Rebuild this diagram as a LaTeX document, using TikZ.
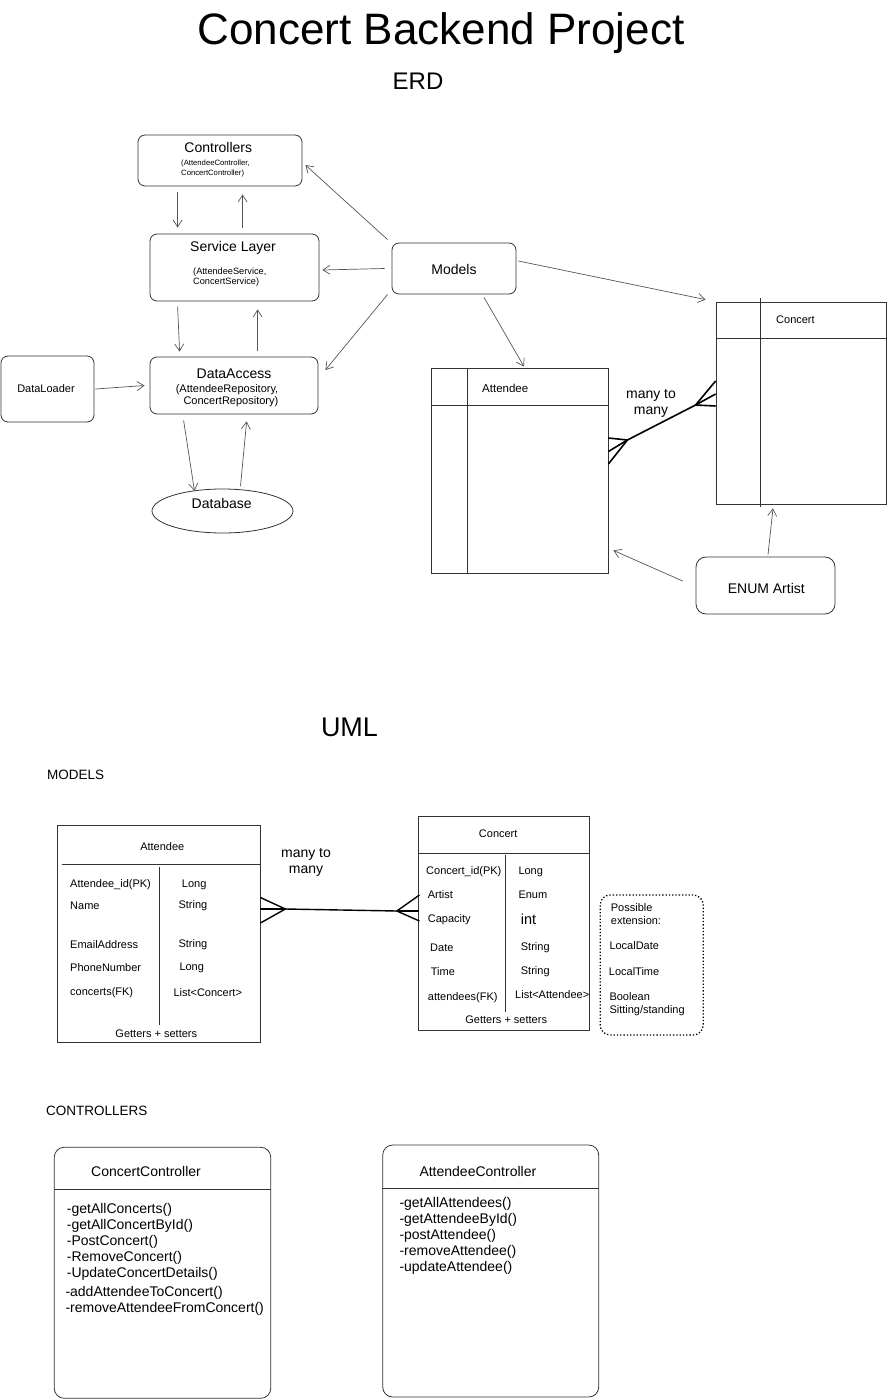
\documentclass[tikz,border=0pt]{standalone}
\usepackage{fontspec}
\setmainfont{Liberation Sans}
\usetikzlibrary{arrows.meta,shapes.geometric,calc}
\definecolor{lc}{HTML}{333333}
\definecolor{ac}{HTML}{555555}
\begin{document}
\begin{tikzpicture}[x=1pt,y=-1pt,
  rbox/.style={draw=lc,line width=0.8pt,rounded corners=7pt,inner sep=0},
  rboxb/.style={draw=lc,line width=0.8pt,rounded corners=10pt,inner sep=0},
  tbl/.style={draw=lc,line width=0.8pt,inner sep=0},
  tline/.style={draw=lc,line width=0.8pt},
  arr/.style={draw=ac,line width=0.7pt,-{Straight Barb[length=7pt,width=9pt]}},
  crow/.style={draw=black,line width=1.6pt},
  crowb/.style={draw=black,line width=1.4pt},
  txt/.style={inner sep=0,anchor=west},
  ctr/.style={inner sep=0},
  f44/.style={font=\fontsize{44}{50}\selectfont},
  f27/.style={font=\fontsize{27}{32}\selectfont},
  f24/.style={font=\fontsize{24}{28}\selectfont},
  f14/.style={font=\fontsize{14}{16}\selectfont},
  f145/.style={font=\fontsize{14.5}{17}\selectfont},
  f135/.style={font=\fontsize{13.5}{16}\selectfont},
  f115/.style={font=\fontsize{11.5}{13.5}\selectfont},
  f11/.style={font=\fontsize{11}{12.4}\selectfont},
  f92/.style={font=\fontsize{9.2}{10}\selectfont},
  f77/.style={font=\fontsize{7.7}{9.3}\selectfont},
]
\useasboundingbox (0,0) rectangle (888,1400);

% ---------- titles ----------
\node[f44,inner sep=0,anchor=base] (title) at (441,44) {Concert Backend Project};
\node[f24,inner sep=0,anchor=base] (erd) at (418,89.6) {ERD};

% ---------- ERD boxes ----------
\node[rbox,minimum width=164pt,minimum height=51pt] (ctrl) at (220,160.5) {};
\node[f14,ctr] (ctrlT) at (218.3,147.3) {Controllers};
\node[f77,txt,align=left] (ctrlS) at (181,168.6) {(AttendeeController,\\ConcertController)};

\node[rbox,minimum width=169pt,minimum height=67pt] (svc) at (234.5,267.5) {};
\node[f14,ctr] (svcT) at (233,248) {Service Layer};
\node[f92,txt,align=left] (svcS) at (193,276.7) {(AttendeeService,\\ConcertService)};

\node[rbox,minimum width=168pt,minimum height=57pt] (dao) at (234,385.5) {};
\node[f14,ctr] (daoT) at (234,374) {DataAccess};
\node[f11,inner sep=0,anchor=east,align=right] (daoS) at (278.5,395.5) {(AttendeeRepository,\\ConcertRepository)};

\node[rbox,minimum width=93pt,minimum height=66pt] (loader) at (47.5,389) {};
\node[f11,ctr] (loaderT) at (46,388.3) {DataLoader};

\node[ellipse,draw=lc,line width=0.8pt,minimum width=141pt,minimum height=44pt,inner sep=0] (db) at (222.5,511) {};
\node[f14,ctr] (dbT) at (221.7,503.3) {Database};

\node[rbox,minimum width=124pt,minimum height=51pt] (models) at (454,268.5) {};
\node[f14,ctr] (modelsT) at (454,269.3) {Models};

\node[rboxb,minimum width=139pt,minimum height=57pt] (enum) at (765.5,585.5) {};
\node[f14,ctr] (enumT) at (766.3,588) {ENUM Artist};

% ERD tables
\node[tbl,minimum width=177pt,minimum height=205pt] (erdA) at (519.5,470.5) {};
\draw[tline] ([xshift=37pt]erdA.north west) -- ([xshift=37pt]erdA.south west);
\draw[tline] ([yshift=-38pt]erdA.north west) -- ([yshift=-38pt]erdA.north east);
\node[f115,txt] (erdAT) at (482,388.3) {Attendee};

\node[tbl,minimum width=170pt,minimum height=202pt] (erdC) at (801,403) {};
\draw[tline] ([xshift=45pt,yshift=4pt]erdC.north west) -- ([xshift=45pt,yshift=-3pt]erdC.south west);
\draw[tline] ([yshift=-37pt]erdC.north west) -- ([yshift=-37pt]erdC.north east);
\node[f11,txt] (erdCT) at (776,320) {Concert};

% crow's feet ERD
\coordinate (fA) at ([xshift=19pt,yshift=30.5pt]erdA.east);
\coordinate (fC) at ([xshift=-20pt,yshift=-2pt]erdC.west);
\draw[crow] (fA) -- (fC);
\draw[crow] ([yshift=32.5pt]erdA.east) -- (fA) -- ([yshift=6.5pt]erdA.east);
\draw[crow] ([yshift=19pt]erdA.east) -- (fA);
\draw[crow] ([yshift=22pt]erdC.west) -- (fC) -- ([yshift=-3pt]erdC.west);
\draw[crow] ([yshift=9pt]erdC.west) -- (fC);
\node[f14,align=center,inner sep=0] (m2m) at (651,403) {many to\\many};

% ERD arrows
\draw[arr] ([xshift=40pt,yshift=-6pt]ctrl.south west) -- ([xshift=28pt,yshift=6pt]svc.north west);
\draw[arr] ([xshift=93pt,yshift=6pt]svc.north west) -- ([xshift=105pt,yshift=-8pt]ctrl.south west);
\draw[arr] ([xshift=28pt,yshift=-5pt]svc.south west) -- ([xshift=30pt,yshift=5pt]dao.north west);
\draw[arr] ([xshift=108pt,yshift=6pt]dao.north west) -- ([xshift=108pt,yshift=-8pt]svc.south west);
\draw[arr] ([xshift=1pt]loader.east) -- ([xshift=-5pt]dao.west);
\draw[arr] ([xshift=34pt,yshift=-6pt]dao.south west) -- ([xshift=-28pt,yshift=20pt]db.center);
\draw[arr] ([xshift=18pt,yshift=25pt]db.center) -- ([xshift=97pt,yshift=-7pt]dao.south west);
\draw[arr] ([xshift=-4pt,yshift=3pt]models.north west) -- ([xshift=3pt,yshift=-4.5pt]ctrl.east);
\draw[arr] ([xshift=-7pt]models.west) -- ([xshift=3pt,yshift=-2.5pt]svc.east);
\draw[arr] ([xshift=-4pt]models.south west) -- ([xshift=7pt,yshift=15.5pt]dao.east);
\draw[arr] ([xshift=2pt,yshift=7.5pt]models.east) -- ([xshift=-10pt,yshift=2pt]erdC.north west);
\draw[arr] ([xshift=30pt,yshift=-3pt]models.south) -- ([xshift=4.5pt,yshift=1pt]erdA.north);
\draw[arr] ([xshift=-13pt,yshift=4.5pt]enum.west) -- ([xshift=5pt,yshift=23pt]erdA.south east);
\draw[arr] ([xshift=2.5pt,yshift=2pt]enum.north) -- ([xshift=-28pt,yshift=-4pt]erdC.south);

% ---------- UML ----------
\node[f27,inner sep=0,anchor=base] (uml) at (349.5,736.7) {UML};
\node[f135,txt] (modl) at (47,775) {MODELS};

% UML Attendee
\node[tbl,minimum width=203pt,minimum height=217pt] (ua) at (158.5,933.5) {};
\draw[tline] ([xshift=5pt,yshift=-40pt]ua.north west) -- ([xshift=1pt,yshift=-40pt]ua.north east);
\draw[tline] ([xshift=103pt,yshift=-42pt]ua.north west) -- ([xshift=103pt,yshift=17pt]ua.south west);
\node[f11,ctr] (uaT) at (162.3,846.7) {Attendee};
\node[f11,txt] (ua1) at (70,885) {Attendee\_id(PK)};
\node[f11,txt] (ua2) at (70,905.7) {Name};
\node[f11,txt] (ua3) at (70,945) {EmailAddress};
\node[f11,txt] (ua4) at (70,967.3) {PhoneNumber};
\node[f11,txt] (ua5) at (70,992.7) {concerts(FK)};
\node[f11,txt] (ub1) at (181.7,885) {Long};
\node[f11,txt] (ub2) at (178.3,905.7) {String};
\node[f11,txt] (ub3) at (178.3,945) {String};
\node[f11,txt] (ub4) at (179.3,968) {Long};
\node[f11,txt] (ub5) at (173.3,992.7) {List<Concert>};
\node[f11,ctr] (uaG) at (156.3,1033.3) {Getters + setters};

% UML Concert
\node[tbl,minimum width=171pt,minimum height=214pt] (uc) at (503.8,923) {};
\draw[tline] ([yshift=-37.3pt]uc.north west) -- ([yshift=-37.3pt]uc.north east);
\draw[tline] ([xshift=87pt,yshift=-39pt]uc.north west) -- ([xshift=87pt,yshift=18.3pt]uc.south west);
\node[f11,ctr] (ucT) at (498.2,833.3) {Concert};
\node[f11,txt] (uc1) at (426,871.7) {Concert\_id(PK)};
\node[f11,txt] (uc2) at (427.7,895) {Artist};
\node[f11,txt] (uc3) at (427.7,919.3) {Capacity};
\node[f11,txt] (uc4) at (430,947.3) {Date};
\node[f11,txt] (uc5) at (430.7,971.7) {Time};
\node[f11,txt] (uc6) at (427.7,997.3) {attendees(FK)};
\node[f11,txt] (ud1) at (518.3,871.7) {Long};
\node[f11,txt] (ud2) at (518.3,895) {Enum};
\node[f145,txt] (ud3) at (520.7,919.3) {int};
\node[f11,txt] (ud4) at (520.7,947.3) {String};
\node[f11,txt] (ud5) at (520.7,971.7) {String};
\node[f11,txt] (ud6) at (515,995) {List<Attendee>};
\node[f11,ctr] (ucG) at (506.2,1020) {Getters + setters};

% possible extension
\node[draw=black,dotted,line width=1.3pt,rounded corners=10pt,minimum width=103pt,minimum height=140pt,inner sep=0] (ext) at (651.7,965) {};
\node[f11,txt,align=left] (ex1) at (610.7,914.2) {Possible\\extension:};
\node[f11,txt] (ex2) at (609.3,945.7) {LocalDate};
\node[f11,txt] (ex3) at (608.7,971.7) {LocalTime};
\node[f11,txt,align=left] (ex4) at (609.3,1004) {Boolean\\Sitting/standing};

% UML crow's feet
\coordinate (gA) at ([xshift=25pt,yshift=24.5pt]ua.east);
\coordinate (gC) at ([xshift=-21pt,yshift=12pt]uc.west);
\draw[crowb] (gA) -- (gC);
\draw[crowb] ([yshift=36pt]ua.east) -- (gA) -- ([yshift=10.5pt]ua.east);
\draw[crowb] ([yshift=24.5pt]ua.east) -- (gA);
\draw[crowb] ([xshift=1.5pt,yshift=28pt]uc.west) -- (gC) -- ([xshift=1.5pt,yshift=2pt]uc.west);
\draw[crowb] ([xshift=1.5pt,yshift=12pt]uc.west) -- (gC);
\node[f14,align=center,inner sep=0] (m2m2) at (306,862) {many to\\many};

% ---------- CONTROLLERS ----------
\node[f135,txt] (ctl) at (46,1111) {CONTROLLERS};

\node[rboxb,minimum width=216.5pt,minimum height=251pt] (cc) at (162.5,1272.8) {};
\draw[tline] ([yshift=-42.7pt]cc.north west) -- ([yshift=-42.7pt]cc.north east);
\node[f14,txt] (ccT) at (91,1171.7) {ConcertController};
\node[f14,inner sep=0,anchor=north west,align=left] (ccM) at (66.7,1203.6) {-getAllConcerts()\\-getAllConcertById()\\-PostConcert()\\-RemoveConcert()\\-UpdateConcertDetails()};
\node[f14,inner sep=0,anchor=north west,align=left] (ccN) at (65.3,1286) {-addAttendeeToConcert()\\-removeAttendeeFromConcert()};

\node[rboxb,minimum width=216pt,minimum height=252pt] (ac) at (490.7,1271) {};
\draw[tline] ([yshift=-43.3pt]ac.north west) -- ([yshift=-43.3pt]ac.north east);
\node[f14,txt] (acT) at (419.3,1171.7) {AttendeeController};
\node[f14,inner sep=0,anchor=north west,align=left] (acM) at (399.3,1197.6) {-getAllAttendees()\\-getAttendeeById()\\-postAttendee()\\-removeAttendee()\\-updateAttendee()};
\end{tikzpicture}
\end{document}
